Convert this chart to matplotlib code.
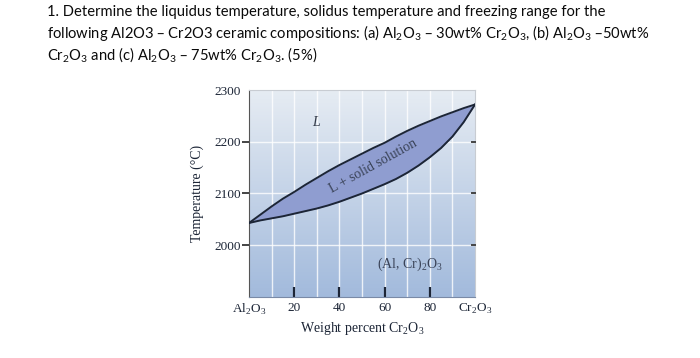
import numpy as np
import matplotlib.pyplot as plt

# phase diagram values (wt% Cr2O3, temperature in C)
composition = [0, 5, 10, 15, 20, 25, 30, 35, 40, 45, 50,
               55, 60, 65, 70, 75, 80, 85, 90, 95, 100]
liquidus = [2043, 2059, 2075, 2090, 2103, 2117, 2130, 2143, 2155, 2166, 2177,
            2188, 2198, 2210, 2221, 2231, 2240, 2249, 2257, 2265, 2272]
solidus = [2043, 2048, 2052, 2056, 2061, 2066, 2071, 2077, 2084, 2092, 2100,
           2109, 2118, 2128, 2140, 2154, 2170, 2188, 2210, 2238, 2272]

x_ticks = [20, 40, 60, 80]
y_ticks = [2000, 2100, 2200, 2300]

question = ("1. Determine the liquidus temperature, solidus temperature and freezing range for the\n"
            "following Al2O3 \u2013 Cr2O3 ceramic compositions: (a) Al$_\\mathregular{2}$O$_\\mathregular{3}$ \u2013 30wt% "
            "Cr$_\\mathregular{2}$O$_\\mathregular{3}$, (b) Al$_\\mathregular{2}$O$_\\mathregular{3}$ \u201350wt%\n"
            "Cr$_\\mathregular{2}$O$_\\mathregular{3}$ and (c) Al$_\\mathregular{2}$O$_\\mathregular{3}$ \u2013 75wt% "
            "Cr$_\\mathregular{2}$O$_\\mathregular{3}$. (5%)")

serif = 'Liberation Serif'
ink = '#1c2536'

fig = plt.figure(figsize=(7, 3.58), dpi=100)
fig.text(0.067, 0.985, question, family=['Lato', 'DejaVu Sans'], fontsize=10.6,
         va='top', ha='left', linespacing=1.22, color='#0a0a0a')

ax = fig.add_axes([0.3557, 0.1704, 0.3229, 0.5782])
ax.set_xlim(0, 100)
ax.set_ylim(1900, 2300)

# light-to-darker blue background
grad = np.linspace(0, 1, 256).reshape(-1, 1)
top = np.array([230, 236, 243]) / 255
bot = np.array([162, 186, 220]) / 255
img = top + (bot - top) * grad
ax.imshow(img.reshape(256, 1, 3), extent=[0, 100, 1900, 2300], aspect='auto',
          zorder=0, interpolation='bicubic')

for gx in range(10, 100, 10):
    ax.axvline(gx, color='white', lw=1.0, alpha=0.8, zorder=1)
for gy in [2000, 2100, 2200]:
    ax.axhline(gy, color='white', lw=1.0, alpha=0.8, zorder=1)

ax.fill_between(composition, solidus, liquidus, color='#8f9dd0', zorder=2, lw=0)
ax.plot(composition, liquidus, color=ink, lw=1.4, zorder=3)
ax.plot(composition, solidus, color=ink, lw=1.4, zorder=3)

ax.text(29.5, 2238, 'L', family=serif, style='italic', fontsize=10, color='#333a48',
        ha='center', va='center')
ax.text(55, 2152, 'L + solid solution', family=serif, fontsize=10, color='#3a4358',
        rotation=29, ha='center', va='center')
ax.text(71, 1963, '(Al, Cr)$_\\mathregular{2}$O$_\\mathregular{3}$', family=serif, fontsize=10,
        color='#3a4358', ha='center', va='center')

# ticks: inward marks at bottom and right, outward on the left
ax.set_xticks(x_ticks)
ax.set_xticklabels([])
ax.tick_params(axis='x', direction='in', length=7, width=1.6, color=ink)
ax.set_yticks(y_ticks)
ax.set_yticklabels([str(t) for t in y_ticks], family=serif, fontsize=9.5, color=ink)
ax.tick_params(axis='y', direction='out', length=5, width=1.4, color='#444444', pad=1)
for t in [2000, 2100, 2200]:
    ax.plot([98.5, 100], [t, t], color='#444444', lw=1.4, zorder=4, clip_on=False)
ax.yaxis.get_major_ticks()[-1].tick1line.set_visible(False)

for lab, xv in zip(['Al$_\\mathregular{2}$O$_\\mathregular{3}$', '20', '40', '60', '80',
                    'Cr$_\\mathregular{2}$O$_\\mathregular{3}$'], [0, 20, 40, 60, 80, 100]):
    ax.text(xv, 1890, lab, family=serif, fontsize=9.5, color=ink, ha='center', va='top')

ax.text(50, 1856, 'Weight percent Cr$_\\mathregular{2}$O$_\\mathregular{3}$', family=serif,
        fontsize=10, color=ink, ha='center', va='top')
ax.set_ylabel('Temperature (\u00b0C)', family=serif, fontsize=10, color=ink, labelpad=7)

ax.spines['left'].set_color('#555555')
ax.spines['bottom'].set_color('#7a8aa6')
ax.spines['top'].set_color('#c8ccd2')
ax.spines['right'].set_color('#c8ccd2')

fig.savefig('out.png', dpi=100)
